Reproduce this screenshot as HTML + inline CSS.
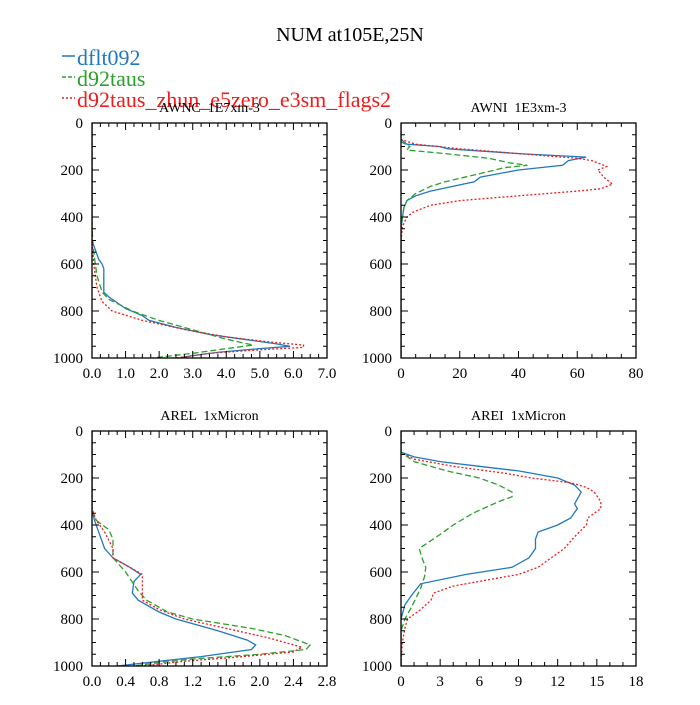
<!DOCTYPE html>
<html><head><meta charset="utf-8"><style>
html,body{margin:0;padding:0;background:#fff;}
svg text{font-family:"Liberation Serif",serif;white-space:pre;}
</style></head><body>
<svg id="chart" width="700" height="700" viewBox="0 0 700 700" xmlns="http://www.w3.org/2000/svg">
<text x="350" y="41" font-size="20" text-anchor="middle">NUM at105E,25N</text>
<g font-size="22">
 <g><line x1="62" y1="56" x2="75" y2="56" stroke="#2079c0" stroke-width="1.5"/><text x="77" y="65" fill="#2079c0">dflt092</text></g>
 <g><line x1="62" y1="77" x2="75" y2="77" stroke="#2ca02c" stroke-width="1.5" stroke-dasharray="4,2"/><text x="77" y="86" fill="#2ca02c">d92taus</text></g>
 <g><line x1="62" y1="98" x2="75" y2="98" stroke="#ee1c1c" stroke-width="1.5" stroke-dasharray="2,2"/><text x="77" y="107" fill="#ee1c1c">d92taus_zhun_e5zero_e3sm_flags2</text></g>
</g>
<g id="panels"></g>
</svg>
<script>
// ---- data (pressure levels, hPa) ----
const yTicks = [0,200,400,600,800,1000];
// Panel 1: AWNC 1E7xm-3
const awncTicks = ["0.0","1.0","2.0","3.0","4.0","5.0","6.0","7.0"];
const awncBlueP = [0,500,520,580,600,620,720,740,790,820,840,870,900,920,940,950,960,975,990,1000];
const awncBlueV = [0,0,0.05,0.2,0.3,0.35,0.35,0.5,1.0,1.5,1.7,2.5,3.5,4.5,5.5,5.9,5.0,3.8,3.0,2.6];
const awncGreenP = [0,450,550,650,720,750,800,840,880,920,945,960,980,1000];
const awncGreenV = [0,0,0.05,0.15,0.3,0.5,1.2,2.0,3.0,4.0,4.8,4.0,3.0,1.8];
const awncRedP = [0,500,600,700,760,800,840,880,910,930,945,955,965,980,1000];
const awncRedV = [0,0,0.05,0.15,0.3,0.6,1.5,2.8,4.0,5.2,6.3,6.3,5.0,3.5,2.5];
// Panel 2: AWNI 1E3xm-3
const awniTicks = ["0","20","40","60","80"];
const awniBlueP = [0,70,90,100,110,130,145,160,180,200,230,250,290,310,330,360,400,450,1000];
const awniBlueV = [0,0,2,13,16,40,63,57,55,40,27,25,10,5,2,1,0.5,0,0];
const awniGreenP = [0,80,100,115,130,150,170,180,190,200,215,250,270,300,330,360,400,450,1000];
const awniGreenV = [0,0,3,2,15,30,37,43,35,32,27,15,10,5,2,1,0.5,0,0];
const awniRedP = [0,70,90,110,130,150,160,175,185,200,230,260,280,290,310,330,350,380,400,440,500,1000];
const awniRedV = [0,0,5,20,40,60,65,68,70,67,69,72,68,60,40,20,10,4,2,0.5,0,0];
// Panel 3: AREL 1xMicron
const arelTicks = ["0.0","0.4","0.8","1.2","1.6","2.0","2.4","2.8"];
const arelBlueP = [0,340,380,450,500,540,580,610,640,690,720,770,800,850,890,910,930,960,980,1000];
const arelBlueV = [0,0,0.03,0.1,0.15,0.25,0.45,0.58,0.5,0.48,0.55,0.8,1.0,1.5,1.85,1.95,1.9,1.3,0.8,0.3];
const arelGreenP = [0,340,380,420,460,540,600,680,720,770,800,840,870,910,930,950,970,990,1000];
const arelGreenV = [0,0,0.05,0.2,0.25,0.25,0.4,0.55,0.65,0.9,1.2,1.9,2.3,2.6,2.55,2.0,1.2,0.7,0.5];
const arelRedP = [0,330,380,430,500,540,610,720,760,800,840,880,920,940,960,980,1000];
const arelRedV = [0,0,0.05,0.15,0.25,0.25,0.6,0.6,0.8,1.1,1.6,2.1,2.5,2.4,1.8,1.1,0.6];
// Panel 4: AREI 1xMicron
const areiTicks = ["0","3","6","9","12","15","18"];
const areiBlueP = [0,90,110,130,150,170,200,230,260,290,310,330,370,400,430,460,500,540,580,610,650,700,740,800,1000];
const areiBlueV = [0,0,1,3,6,9,12,13.3,13.8,13.5,13.3,13.5,13,12,10.5,10.3,10.3,9.8,8.5,5,1.5,0.8,0.3,0,0];
const areiGreenP = [0,90,130,170,200,230,260,280,300,350,400,440,500,540,580,620,670,750,800,850,1000];
const areiGreenV = [0,0,1,3.5,6,7.5,8.5,8.5,7.5,5.5,4,3,1.4,1.6,1.9,1.8,1.5,0.8,0.3,0,0];
const areiRedP = [0,90,120,150,180,200,220,240,260,300,330,370,400,450,500,580,610,640,660,690,720,760,800,840,900,1000];
const areiRedV = [0,0,1,4,8,10,13,14.2,14.8,15.3,15.3,14.3,14.2,13.3,12.5,10.5,9,6,4,2.5,2.3,1.5,0.5,0.3,0.1,0];

const NS = "http://www.w3.org/2000/svg";
const root = document.getElementById("panels");
const colors = {blue:"#2079c0", green:"#2ca02c", red:"#ee1c1c"};
const dashes = {blue:"", green:"6,3", red:"2,2"};

function mk(tag, attrs, parent){
  const e = document.createElementNS(NS, tag);
  for (const k in attrs) e.setAttribute(k, attrs[k]);
  parent.appendChild(e);
  return e;
}

function panel(name, title, L, T, W, H, xmax, xt, minorX, series){
  const g = mk("g", {}, root);
  
  
  const xs = v => L + v / xmax * W;
  const ys = p => T + p / 1000 * H;
  const tt = mk("text", {x: L + W/2, y: T - 11, "font-size": 14, "text-anchor": "middle"}, g);
  tt.textContent = title;
  
  
  const cid = name + "-clip";
  const cp = mk("clipPath", {id: cid}, g);
  mk("rect", {x: L, y: T, width: W, height: H}, cp);
  series.forEach(s => {
    const pts = s.p.map((p, i) => xs(s.v[i]).toFixed(1) + "," + ys(p).toFixed(1)).join(" ");
    const pl = mk("polyline", {points: pts, fill: "none", stroke: colors[s.c], "stroke-width": 1.3, "stroke-dasharray": dashes[s.c], "clip-path": "url(#" + cid + ")"}, g);
    
    
  });
  const fr = mk("rect", {x: L, y: T, width: W, height: H, fill: "none", stroke: "#000", "stroke-width": 1.3}, g);
  
  
  for (let p = 0; p <= 1000; p += 50) {
    const major = p % 200 === 0;
    const len = major ? 7 : 4;
    mk("line", {x1: L, x2: L + len, y1: ys(p), y2: ys(p), stroke: "#000", "stroke-width": 1}, g);
    mk("line", {x1: L + W, x2: L + W - len, y1: ys(p), y2: ys(p), stroke: "#000", "stroke-width": 1}, g);
  }
  yTicks.forEach(p => {
    const t = mk("text", {x: L - 9, y: ys(p) + 5, "font-size": 15, "text-anchor": "end"}, g);
    t.textContent = p;
    
    
  });
  const nMajor = xt.length - 1;
  const nMinor = nMajor * minorX;
  for (let i = 0; i <= nMinor; i++) {
    const x = L + i / nMinor * W;
    const major = i % minorX === 0;
    const len = major ? 7 : 4;
    mk("line", {x1: x, x2: x, y1: T + H, y2: T + H - len, stroke: "#000", "stroke-width": 1}, g);
    mk("line", {x1: x, x2: x, y1: T, y2: T + len, stroke: "#000", "stroke-width": 1}, g);
  }
  xt.forEach((lab, i) => {
    const t = mk("text", {x: L + i / nMajor * W, y: T + H + 20, "font-size": 15, "text-anchor": "middle"}, g);
    t.textContent = lab;
    
    
  });
}

panel("panel-awnc", "AWNC  1E7xm-3", 92, 123, 235, 235, 7, awncTicks, 4, [
  {n:"dflt092", c:"blue", p:awncBlueP, v:awncBlueV},
  {n:"d92taus", c:"green", p:awncGreenP, v:awncGreenV},
  {n:"d92taus-zhun", c:"red", p:awncRedP, v:awncRedV}]);
panel("panel-awni", "AWNI  1E3xm-3", 401, 123, 235, 235, 80, awniTicks, 4, [
  {n:"dflt092", c:"blue", p:awniBlueP, v:awniBlueV},
  {n:"d92taus", c:"green", p:awniGreenP, v:awniGreenV},
  {n:"d92taus-zhun", c:"red", p:awniRedP, v:awniRedV}]);
panel("panel-arel", "AREL  1xMicron", 92, 431, 235, 235, 2.8, arelTicks, 4, [
  {n:"dflt092", c:"blue", p:arelBlueP, v:arelBlueV},
  {n:"d92taus", c:"green", p:arelGreenP, v:arelGreenV},
  {n:"d92taus-zhun", c:"red", p:arelRedP, v:arelRedV}]);
panel("panel-arei", "AREI  1xMicron", 401, 431, 235, 235, 18, areiTicks, 3, [
  {n:"dflt092", c:"blue", p:areiBlueP, v:areiBlueV},
  {n:"d92taus", c:"green", p:areiGreenP, v:areiGreenV},
  {n:"d92taus-zhun", c:"red", p:areiRedP, v:areiRedV}]);
</script>
</body></html>
